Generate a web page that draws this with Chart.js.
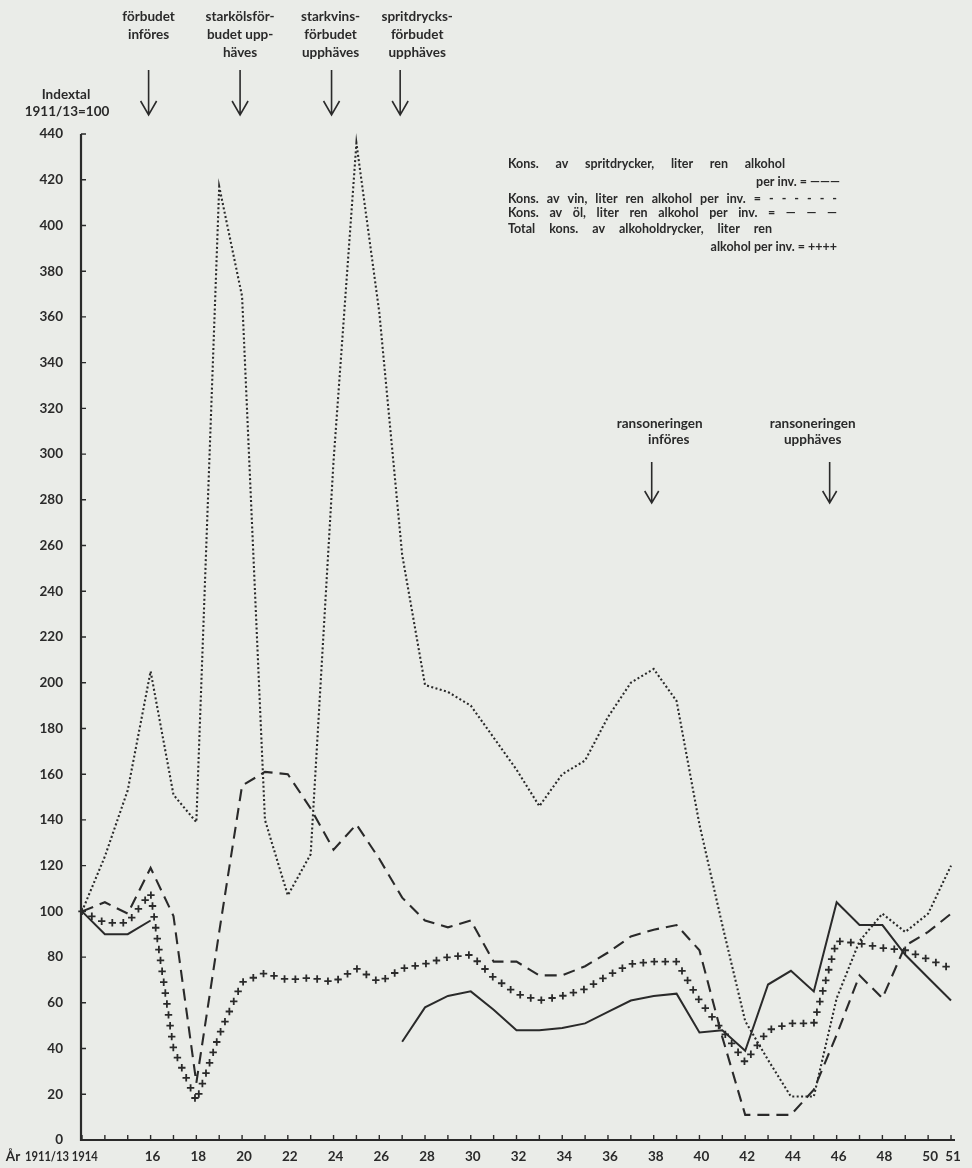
<!DOCTYPE html>
<html>
<head>
<meta charset="utf-8">
<script src="https://cdn.jsdelivr.net/npm/chart.js@4.4.1/dist/chart.umd.min.js"></script>
<style>
  html, body { margin: 0; padding: 0; background: #eaece8; }
  #diagram { display: block; }
</style>
</head>
<body>
<canvas id="diagram" width="972" height="1168"></canvas>
<script>
// År (1911/13 = basperiod, ritad på 1913)
const years = [1913, 1914, 1915, 1916, 1917, 1918, 1919, 1920, 1921, 1922,
               1923, 1924, 1925, 1926, 1927, 1928, 1929, 1930, 1931, 1932,
               1933, 1934, 1935, 1936, 1937, 1938, 1939, 1940, 1941, 1942,
               1943, 1944, 1945, 1946, 1947, 1948, 1949, 1950, 1951];

// Indextal 1911/13 = 100
const sprit = [100, 90, 90, 96, null, null, null, null, null, null,
               null, null, null, null, 43, 58, 63, 65, 57, 48,
               48, 49, 51, 56, 61, 63, 64, 47, 48, 39,
               68, 74, 65, 104, 94, 94, 81, 71, 61];
const vin   = [100, 124, 153, 205, 151, 139, 417, 369, 140, 107,
               125, 297, 436, 362, 256, 199, 196, 190, 176, 162,
               146, 160, 166, 185, 200, 206, 192, 138, 94, 52,
               35, 19, 19, 62, 87, 99, 91, 99, 120];
const ol    = [100, 104, 99, 119, 98, 25, 91, 155, 161, 160,
               145, 127, 138, 123, 106, 96, 93, 96, 78, 78,
               72, 72, 76, 82, 89, 92, 94, 83, 45, 11,
               11, 11, 22, 46, 72, 62, 85, 91, 99];
const total = [100, 95, 95, 108, 40, 17, 46, 69, 73, 70,
               71, 69, 75, 69, 75, 77, 80, 81, 71, 64,
               61, 63, 66, 72, 77, 78, 78, 61, 48, 34,
               48, 51, 51, 87, 86, 84, 83, 79, 75];

const xTickYears  = [1913, 1914, 1916, 1918, 1920, 1922, 1924, 1926, 1928, 1930,
                     1932, 1934, 1936, 1938, 1940, 1942, 1944, 1946, 1948, 1950, 1951];
const xTickLabels = ['1911/13', '1914', '16', '18', '20', '22', '24', '26', '28', '30',
                     '32', '34', '36', '38', '40', '42', '44', '46', '48', '50', '51'];
const yTickValues = [0, 20, 40, 60, 80, 100, 120, 140, 160, 180, 200, 220,
                     240, 260, 280, 300, 320, 340, 360, 380, 400, 420, 440];

const handelser = [
  { ar: 1916, rader: ['förbudet', 'införes'] },
  { ar: 1920, rader: ['starkölsför-', 'budet upp-', 'häves'] },
  { ar: 1924, rader: ['starkvins-', 'förbudet', 'upphäves'] },
  { ar: 1927, rader: ['spritdrycks-', 'förbudet', 'upphäves'] }
];
const ransonering = [
  { ar: 1938, rader: ['ransoneringen', 'införes'] },
  { ar: 1946, rader: ['ransoneringen', 'upphäves'] }
];
const forklaring = [
  'Kons. av spritdrycker, liter ren alkohol',
  'per inv. = ———',
  'Kons. av vin, liter ren alkohol per inv. = - - - - - -',
  'Kons. av öl, liter ren alkohol per inv. = — — —',
  'Total kons. av alkoholdrycker, liter ren',
  'alkohol per inv. = ++++'
];

const BLACK = '#2a2a2a';
const FONT = 'Lato, "DejaVu Sans", sans-serif';

function punkter(vals) {
  return years.map((ar, i) => ({ x: ar, y: vals[i] }));
}

function pil(ctx, x, y0, y1, halv, hojd) {
  ctx.beginPath();
  ctx.moveTo(x, y0); ctx.lineTo(x, y1);
  ctx.moveTo(x - halv, y1 - hojd); ctx.lineTo(x, y1); ctx.lineTo(x + halv, y1 - hojd);
  ctx.stroke();
}

// sprider orden jämnt mellan x0 och x1, eller högerställer om x0 saknas
function justerad(ctx, tekst, x0, x1, y) {
  if (x0 === null) {
    ctx.textAlign = 'right';
    ctx.fillText(tekst, x1, y);
    return;
  }
  const ord = tekst.split(' ');
  const br = ord.map(w => ctx.measureText(w).width);
  const sum = br.reduce((a, b) => a + b, 0);
  const gap = ord.length > 1 ? (x1 - x0 - sum) / (ord.length - 1) : 0;
  let x = x0;
  ctx.textAlign = 'left';
  ord.forEach((w, i) => { ctx.fillText(w, x, y); x += br[i] + gap; });
}

const bakgrund = {
  id: 'bakgrund',
  beforeDraw(chart) {
    const ctx = chart.ctx;
    ctx.save();
    ctx.fillStyle = '#eaece8';
    ctx.fillRect(0, 0, chart.width, chart.height);
    ctx.restore();
  }
};

// "+"-linjen för totalkonsumtionen
const kryss = {
  id: 'kryss',
  afterDatasetsDraw(chart) {
    const pts = chart.getDatasetMeta(3).data;
    const ctx = chart.ctx;
    const steg = 11, r = 3.7;
    ctx.save();
    ctx.strokeStyle = BLACK;
    ctx.lineWidth = 1.8;
    ctx.beginPath();
    let rest = 0;
    for (let i = 0; i < pts.length - 1; i++) {
      const a = pts[i], b = pts[i + 1];
      if (a.skip || b.skip) { rest = 0; continue; }
      const dx = b.x - a.x, dy = b.y - a.y;
      const len = Math.hypot(dx, dy);
      let d = rest;
      while (d <= len) {
        const x = a.x + dx * d / len, y = a.y + dy * d / len;
        ctx.moveTo(x - r, y); ctx.lineTo(x + r, y);
        ctx.moveTo(x, y - r); ctx.lineTo(x, y + r);
        d += steg;
      }
      rest = d - len;
    }
    ctx.stroke();
    ctx.restore();
  }
};

const axlar = {
  id: 'axlar',
  afterDraw(chart) {
    const ctx = chart.ctx;
    const xs = chart.scales.x, ys = chart.scales.y;
    const x0 = xs.getPixelForValue(1913) - 1;
    const yb = ys.getPixelForValue(0);
    ctx.save();
    ctx.strokeStyle = BLACK;
    ctx.fillStyle = BLACK;

    // y-axel
    ctx.lineWidth = 2.2;
    ctx.beginPath();
    ctx.moveTo(x0, ys.getPixelForValue(440));
    ctx.lineTo(x0, yb + 1);
    ctx.stroke();
    ctx.lineWidth = 1.4;
    ctx.beginPath();
    yTickValues.forEach(v => {
      const y = ys.getPixelForValue(v);
      ctx.moveTo(x0, y); ctx.lineTo(x0 + 5, y);
    });
    ctx.stroke();

    // x-axel
    ctx.lineWidth = 2.2;
    ctx.beginPath();
    ctx.moveTo(x0 - 1, yb);
    ctx.lineTo(xs.getPixelForValue(1951) + 4, yb);
    ctx.stroke();
    ctx.lineWidth = 1.4;
    ctx.beginPath();
    years.forEach(ar => {
      const x = xs.getPixelForValue(ar);
      ctx.moveTo(x, yb); ctx.lineTo(x, yb - 5);
    });
    ctx.stroke();

    // etiketter
    ctx.font = 'bold 13.5px ' + FONT;
    ctx.textBaseline = 'middle';
    ctx.textAlign = 'right';
    yTickValues.forEach(v => ctx.fillText(String(v), 63, ys.getPixelForValue(v)));

    ctx.textAlign = 'center';
    const knuff = { 1913: -35, 1914: -20 };
    const maxBredd = { 1913: 44, 1914: 26 };
    xTickYears.forEach((ar, i) => {
      const x = xs.getPixelForValue(ar) + (knuff[ar] || 2);
      if (maxBredd[ar]) ctx.fillText(xTickLabels[i], x, yb + 17, maxBredd[ar]);
      else ctx.fillText(xTickLabels[i], x, yb + 17);
    });
    ctx.fillText('År', 13, yb + 17);

    ctx.fillText('Indextal', 66, 95);
    ctx.fillText('1911/13=100', 67, 112);

    // händelser överst
    const textSkift = [0, 0, -1, 17];
    handelser.forEach((h, i) => {
      const x = xs.getPixelForValue(h.ar) - 2;
      ctx.textAlign = 'center';
      h.rader.forEach((r, j) => ctx.fillText(r, x + textSkift[i], 17 + j * 18));
      ctx.lineWidth = 1.6;
      pil(ctx, x, 70, 115, 8, 14);
    });

    // ransonering
    const rSkift = [[8, 17], [-17, -17]];
    const rPilDx = [-2, -7];
    ransonering.forEach((h, i) => {
      const x = xs.getPixelForValue(h.ar) + rPilDx[i];
      ctx.textAlign = 'center';
      h.rader.forEach((r, j) => ctx.fillText(r, x + rSkift[i][j], 424 + j * 16));
      ctx.lineWidth = 1.6;
      pil(ctx, x, 462, 503, 7, 12);
    });

    // förklaring
    ctx.font = 'bold 12.5px ' + FONT;
    const rad = [
      [508, 785, 164], [null, 840, 182], [508, 837, 199],
      [508, 837, 213], [508, 772, 229], [null, 837, 247]
    ];
    forklaring.forEach((t, i) => justerad(ctx, t, rad[i][0], rad[i][1], rad[i][2]));
    ctx.restore();
  }
};

new Chart(document.getElementById('diagram'), {
  type: 'line',
  data: {
    datasets: [
      { label: 'Spritdrycker', data: punkter(sprit), borderColor: BLACK, borderWidth: 2,
        pointRadius: 0, spanGaps: false, clip: false },
      { label: 'Vin', data: punkter(vin), borderColor: BLACK, borderWidth: 2.1,
        borderDash: [2, 2.4], pointRadius: 0, clip: false },
      { label: 'Öl', data: punkter(ol), borderColor: BLACK, borderWidth: 2.1,
        borderDash: [12, 7], pointRadius: 0, clip: false },
      { label: 'Total', data: punkter(total), showLine: false, pointRadius: 0, borderWidth: 0 }
    ]
  },
  options: {
    responsive: false,
    animation: false,
    devicePixelRatio: 1,
    layout: { padding: { left: 82, right: 21, top: 134, bottom: 28 } },
    scales: {
      x: { type: 'linear', min: 1913, max: 1951, display: false },
      y: { type: 'linear', min: 0, max: 440, display: false }
    },
    plugins: {
      legend: { display: false },
      tooltip: { enabled: false }
    }
  },
  plugins: [bakgrund, kryss, axlar]
});
</script>
</body>
</html>
